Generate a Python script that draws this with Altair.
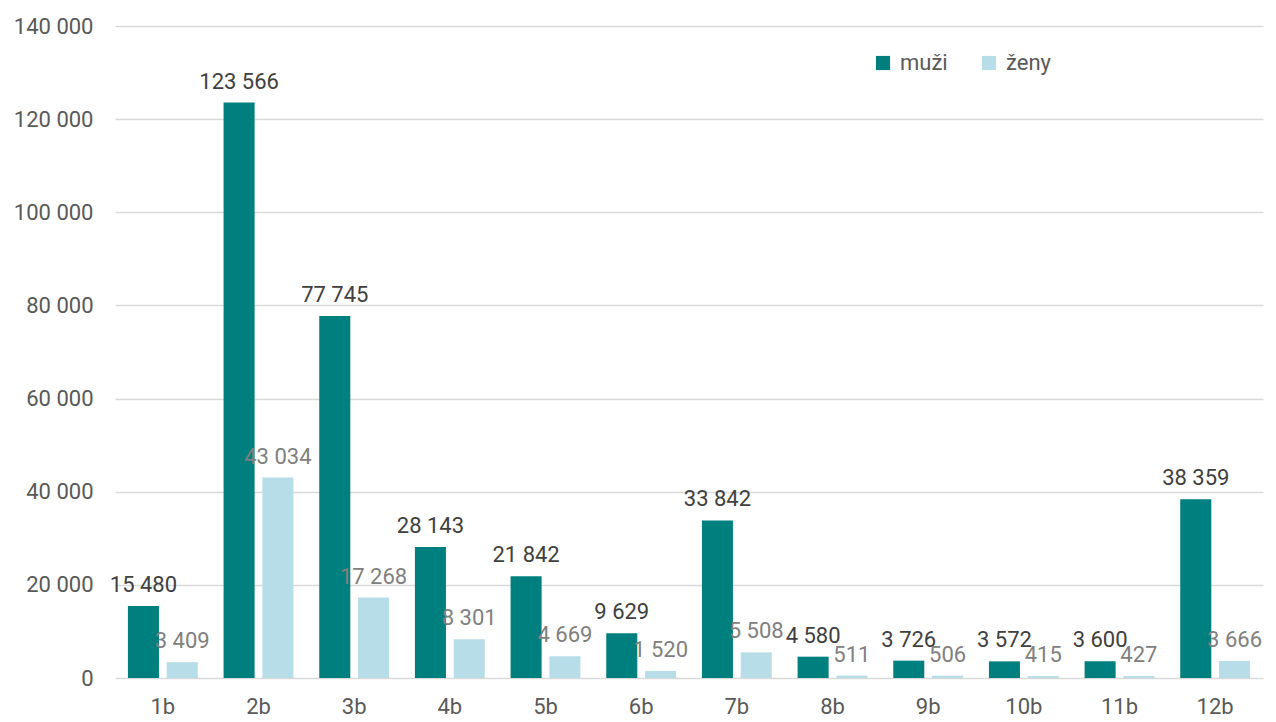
import altair as alt
import pandas as pd

categories = ["1b", "2b", "3b", "4b", "5b", "6b", "7b", "8b", "9b", "10b", "11b", "12b"]
muzi = [15480, 123566, 77745, 28143, 21842, 9629, 33842, 4580, 3726, 3572, 3600, 38359]
zeny = [3409, 43034, 17268, 8301, 4669, 1520, 5508, 511, 506, 415, 427, 3666]
series = ["muži", "ženy"]
colors = ["#007F7F", "#B7DDE8"]

rows = []
for c, m, z in zip(categories, muzi, zeny):
    rows.append({"kat": c, "pohlavi": "muži", "pocet": m, "label": f"{m:,}".replace(",", " ")})
    rows.append({"kat": c, "pohlavi": "ženy", "pocet": z, "label": f"{z:,}".replace(",", " ")})
df = pd.DataFrame(rows)

FONT = "Roboto"

x = alt.X("kat:N", sort=categories, title=None,
          scale=alt.Scale(paddingInner=0.27, paddingOuter=0.135),
          axis=alt.Axis(labelAngle=0, labelFontSize=22, labelColor="#595959", labelFont=FONT,
                        domain=False, ticks=False, labelPadding=18))
xoff = alt.XOffset("pohlavi:N", sort=series, scale=alt.Scale(paddingInner=0.2, paddingOuter=0))
y = alt.Y("pocet:Q", title=None,
          scale=alt.Scale(domain=[0, 140000], nice=False),
          axis=alt.Axis(values=list(range(0, 140001, 20000)),
                        labelExpr="replace(format(datum.value, ','), regexp(',', 'g'), ' ')",
                        labelFontSize=22, labelColor="#595959", labelFont=FONT,
                        domain=False, ticks=False, labelPadding=22,
                        grid=True, gridColor="#D9D9D9", gridWidth=1.5))

base = alt.Chart(df)

bars = base.mark_bar().encode(
    x=x, xOffset=xoff, y=y,
    color=alt.Color("pohlavi:N", sort=series, title=None,
                    scale=alt.Scale(domain=series, range=colors),
                    legend=alt.Legend(orient="none", legendX=757, legendY=26, direction="horizontal",
                                      symbolType="square", symbolSize=200, symbolStrokeWidth=0,
                                      labelFontSize=22, labelColor="#595959", labelFont=FONT,
                                      columnPadding=30, labelOffset=6)),
)

text_m = base.transform_filter(alt.datum.pohlavi == "muži").mark_text(
    baseline="bottom", dy=-9, fontSize=22, font=FONT, color="#404040"
).encode(x=x, xOffset=xoff, y=y, text="label:N")

text_z = base.transform_filter(alt.datum.pohlavi == "ženy").mark_text(
    baseline="bottom", dy=-9, fontSize=22, font=FONT, color="#808080"
).encode(x=x, xOffset=xoff, y=y, text="label:N")

chart = alt.layer(bars, text_m, text_z).properties(
    width=1148, height=652,
    padding={"top": 7, "left": 5, "right": 5, "bottom": 2},
).configure_view(strokeWidth=0)

chart.save("out.html", embed_options={"renderer": "svg", "actions": False})
